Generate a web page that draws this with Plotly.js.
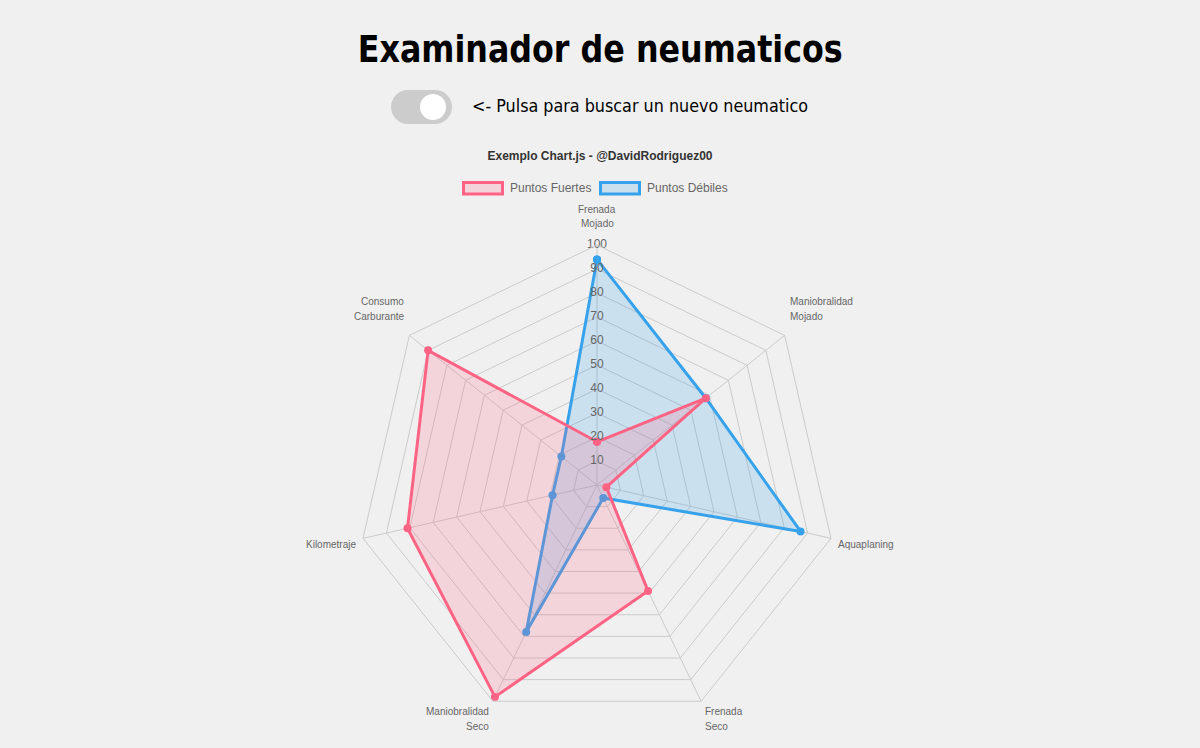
<!DOCTYPE html>
<html><head><meta charset="utf-8">
<script src="https://cdn.plot.ly/plotly-3.0.1.min.js"></script>
<style>
html,body{margin:0;padding:0;background:#f0f0f0;width:1200px;height:748px;overflow:hidden;}
#chart{position:absolute;left:0;top:0;width:1200px;height:748px;}
.hdr{position:absolute;white-space:nowrap;pointer-events:none;z-index:5;}
#h1{left:0;top:30px;width:1200px;text-align:center;font-family:'DejaVu Sans',Verdana,sans-serif;font-weight:bold;font-size:38px;line-height:38px;color:#000;}
#h1 span{display:inline-block;transform-origin:50% 50%;}
#pill{position:absolute;left:391px;top:90px;width:61px;height:34px;border-radius:17px;background:#cccccc;z-index:5;}
#knob{position:absolute;left:420px;top:94px;width:26px;height:26px;border-radius:13px;background:#ffffff;z-index:6;}
#tt{left:472px;top:98px;font-family:'DejaVu Sans',Verdana,sans-serif;font-size:17px;line-height:17px;color:#000;}
#tt span{display:inline-block;transform-origin:0 50%;}
</style></head>
<body>
<div id="chart"></div>
<div class="hdr" id="h1"><span id="h1s">Examinador de neumaticos</span></div>
<div id="pill"></div><div id="knob"></div>
<div class="hdr" id="tt"><span id="tts">&lt;- Pulsa para buscar un nuevo neumatico</span></div>
<script>
// ---- data ----
const categories = ['Frenada Mojado','Maniobralidad Mojado','Aquaplaning','Frenada Seco','Maniobralidad Seco','Kilometraje','Consumo Carburante'];
const categoryLabelLines = [['Frenada','Mojado'],['Maniobralidad','Mojado'],['Aquaplaning'],['Frenada','Seco'],['Maniobralidad','Seco'],['Kilometraje'],['Consumo','Carburante']];
const puntosFuertes = [18, 58, 4, 49, 98, 81, 90];
const puntosDebiles = [94, 58, 87, 6, 68, 19, 19];
const radialTicks = [10, 20, 30, 40, 50, 60, 70, 80, 90, 100];
const seriesNames = ['Puntos Fuertes', 'Puntos Débiles'];

// fit header texts to reference widths
function fit(id, w){const s=document.getElementById(id);const r=s.getBoundingClientRect();s.style.transform='scaleX('+(w/r.width)+')';}
fit('h1s', 485); fit('tts', 336);

const pink = 'rgb(255, 99, 132)', blue = 'rgb(54, 162, 235)';
const font = 'Liberation Sans, Helvetica, Arial, sans-serif';
const close = a => a.concat([a[0]]);

const traces = [
  {type:'scatterpolar', name:seriesNames[1], r:close(puntosDebiles), theta:close(categories),
   mode:'lines+markers', fill:'toself', fillcolor:'rgba(54, 162, 235, 0.2)',
   line:{color:blue, width:3}, marker:{color:blue, size:8}, showlegend:false, hoverinfo:'skip'},
  {type:'scatterpolar', name:seriesNames[0], r:close(puntosFuertes), theta:close(categories),
   mode:'lines+markers', fill:'toself', fillcolor:'rgba(255, 99, 132, 0.2)',
   line:{color:pink, width:3}, marker:{color:pink, size:8}, showlegend:false, hoverinfo:'skip'},
  {type:'scatterpolar', r:radialTicks, theta:radialTicks.map(()=>categories[0]), mode:'text',
   text:radialTicks.map(String), textposition:'middle center',
   textfont:{family:font, size:12, color:'#666'}, showlegend:false, hoverinfo:'skip'}
];

const W = 1200, H = 748;
const py = p => 1 - p/H, px = p => p/W;
// polar geometry (pixels)
const cx = 597, cy = 485, R = 240, labelPad = 6, lineH = 15;

// point labels, placed around the polygon like Chart.js does
const labelAnn = [];
categoryLabelLines.forEach((lines, i) => {
  const a = i * 2 * Math.PI / categories.length;
  const s = Math.sin(a), c = Math.cos(a);
  const x = cx + (R + labelPad) * s, y = cy - (R + labelPad) * c;
  const xa = Math.abs(s) < 1e-6 ? 'center' : (s > 0 ? 'left' : 'right');
  const n = lines.length;
  lines.forEach((t, k) => {
    const yy = c > 1e-6 ? y - lineH * (n - k) : y + 5 + lineH * k;
    labelAnn.push({xref:'paper', yref:'paper', x:px(x), y:py(yy), xanchor:xa, yanchor:'middle', showarrow:false,
      borderpad:0, text:t, font:{family:font, size:10, color:'#666'}});
  });
});

const layout = {
  width:W, height:H, margin:{l:0,r:0,t:0,b:0},
  paper_bgcolor:'rgba(0,0,0,0)', plot_bgcolor:'rgba(0,0,0,0)',
  showlegend:false,
  title:{text:'<b>Exemplo Chart.js - @DavidRodriguez00</b>', x:0.5, xanchor:'center', y:py(156), yanchor:'middle',
         font:{family:font, size:12, color:'#333'}},
  polar:{
    domain:{x:[px(cx-R), px(cx+R)], y:[py(cy+R), py(cy-R)]},
    bgcolor:'rgba(0,0,0,0)', gridshape:'linear',
    radialaxis:{range:[0,100], tickvals:radialTicks, showticklabels:false, ticks:'', showline:false,
                gridcolor:'#cbcbcb', gridwidth:1},
    angularaxis:{direction:'clockwise', rotation:90, showticklabels:false, ticks:'', showline:true,
                 linecolor:'#cbcbcb', gridcolor:'#cbcbcb'}
  },
  shapes:[
    {type:'rect', xref:'paper', yref:'paper', x0:px(463.5), x1:px(502.5), y0:py(182.5), y1:py(194),
     line:{color:pink, width:3}, fillcolor:'rgba(255, 99, 132, 0.2)'},
    {type:'rect', xref:'paper', yref:'paper', x0:px(600.5), x1:px(639.5), y0:py(182.5), y1:py(194),
     line:{color:blue, width:3}, fillcolor:'rgba(54, 162, 235, 0.2)'}
  ],
  annotations:[
    {xref:'paper', yref:'paper', x:px(509), y:py(188), xanchor:'left', yanchor:'middle', showarrow:false, borderpad:0,
     text:seriesNames[0], font:{family:font, size:12, color:'#666'}},
    {xref:'paper', yref:'paper', x:px(646), y:py(188), xanchor:'left', yanchor:'middle', showarrow:false, borderpad:0,
     text:seriesNames[1], font:{family:font, size:12, color:'#666'}}
  ].concat(labelAnn)
};
Plotly.newPlot('chart', traces, layout, {displayModeBar:false, staticPlot:true});
</script>
</body></html>
